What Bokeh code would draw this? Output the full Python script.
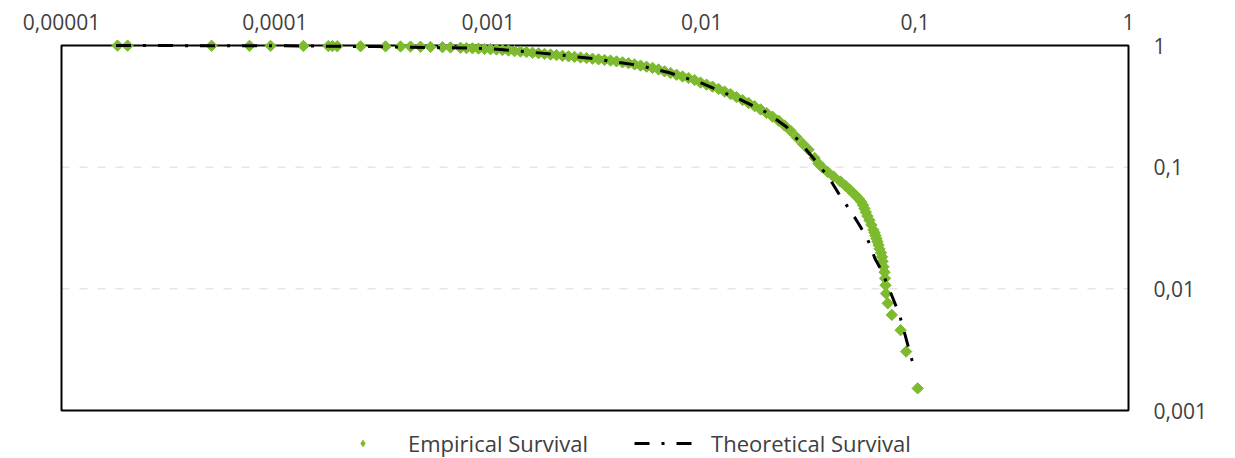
from bokeh.plotting import figure
from bokeh.models import FixedTicker, CustomJSTickFormatter, Legend, LegendItem
from bokeh.embed import file_html
from bokeh.resources import INLINE
import math

# Empirical survival (sorted data, survival probability)
emp_x = [
    1.83e-5, 2.04e-5, 5.05e-5, 7.60e-5, 9.54e-5, 1.36e-4, 1.78e-4, 1.86e-4, 1.96e-4, 2.52e-4, 3.30e-4, 3.88e-4,
    4.32e-4, 4.81e-4, 5.36e-4, 6.10e-4, 6.65e-4, 7.41e-4, 7.90e-4, 8.43e-4, 8.99e-4, 9.60e-4, 1.024e-3,
    1.092e-3, 1.165e-3, 1.243e-3, 1.327e-3, 1.415e-3, 1.510e-3, 1.611e-3, 1.719e-3, 1.834e-3, 1.957e-3,
    2.088e-3, 2.227e-3, 2.376e-3, 2.535e-3, 2.705e-3, 2.886e-3, 3.079e-3, 3.285e-3, 3.505e-3, 3.739e-3,
    3.989e-3, 4.256e-3, 4.541e-3, 4.845e-3, 5.169e-3, 5.515e-3, 5.884e-3, 6.278e-3, 6.698e-3, 7.146e-3,
    7.624e-3, 8.134e-3, 8.678e-3, 9.259e-3, 9.878e-3, 1.054e-2, 1.124e-2, 1.200e-2, 1.280e-2, 1.366e-2,
    1.457e-2, 1.555e-2, 1.659e-2, 1.770e-2, 1.888e-2, 2.014e-2, 2.149e-2, 2.293e-2, 2.446e-2, 2.610e-2,
    2.785e-2, 2.971e-2, 3.170e-2, 3.382e-2,
    0.0353, 0.0368, 0.0389, 0.0415, 0.0447, 0.0473, 0.0493, 0.0514, 0.0531, 0.0545, 0.0560, 0.0570,
    0.0579, 0.0588, 0.0598, 0.0611, 0.0624, 0.0638, 0.0645, 0.0652, 0.0659, 0.0666, 0.0674, 0.0681,
    0.0692, 0.0700, 0.0704, 0.0711,
    0.0719, 0.0723, 0.0727, 0.0731, 0.0744, 0.0778, 0.0855, 0.0908, 0.1028,
]
emp_s = [
    0.9985, 0.997, 0.9954, 0.9939, 0.9924, 0.9909, 0.9893, 0.9878, 0.9863, 0.9848, 0.9832, 0.9817,
    0.980, 0.977, 0.973, 0.968, 0.964, 0.958, 0.953, 0.948, 0.943, 0.938, 0.932,
    0.927, 0.918, 0.910, 0.899, 0.892, 0.882, 0.872, 0.862, 0.853, 0.843,
    0.834, 0.824, 0.815, 0.806, 0.797, 0.788, 0.779, 0.770, 0.761, 0.752,
    0.740, 0.727, 0.715, 0.699, 0.684, 0.670, 0.654, 0.635, 0.613, 0.594,
    0.575, 0.556, 0.540, 0.520, 0.4955, 0.477, 0.459, 0.439, 0.418, 0.398,
    0.376, 0.356, 0.337, 0.317, 0.298, 0.279, 0.260, 0.241, 0.220, 0.199,
    0.176, 0.156, 0.139, 0.119,
    0.1067, 0.0991, 0.0915, 0.0838, 0.0762, 0.0701, 0.0655, 0.0610, 0.0579, 0.0549, 0.0518, 0.0488,
    0.0457, 0.0427, 0.0396, 0.0366, 0.0335, 0.0305, 0.0290, 0.0274, 0.0259, 0.0244, 0.0229, 0.0213,
    0.0198, 0.0183, 0.0168, 0.0152,
    0.0137, 0.0122, 0.0107, 0.00915, 0.0076, 0.0061, 0.00457, 0.00305, 0.00152,
]

# Theoretical survival curve
theo_x = [1.8e-5, 1e-4, 3e-4, 1e-3, 2e-3, 3e-3, 5e-3, 7e-3, 1e-2, 1.5e-2, 2e-2, 2.5e-2, 3e-2, 3.5e-2,
          4e-2, 4.5e-2, 5e-2, 5.5e-2, 6e-2, 6.5e-2, 7e-2, 7.5e-2, 8e-2, 8.5e-2, 9e-2, 9.5e-2, 0.1]
theo_s = [0.9995, 0.995, 0.98, 0.945, 0.85, 0.785, 0.69, 0.60, 0.49, 0.362, 0.283, 0.214, 0.148, 0.107,
          0.079, 0.0563, 0.0433, 0.0332, 0.0254, 0.0176, 0.0139, 0.0103, 0.0078, 0.0059, 0.0041, 0.0029, 0.0021]

x_ticks = [1e-5, 1e-4, 1e-3, 1e-2, 1e-1, 1]
y_ticks = [1e-3, 1e-2, 1e-1, 1]

series_labels = ["Empirical Survival", "Theoretical Survival"]

FONT = "Open Sans"
TXT = "#404040"
GREEN = "#7DBA2F"

# The drawing area is a little larger than the chart box so that the box lines,
# the markers along the top edge and the legend below the box are not clipped.
PX_X = 213.4   # pixels per decade (x)
PX_Y = 365 / 3  # pixels per decade (y)
pad_x, pad_top, pad_bottom = 3, 6, 48
x_start = x_ticks[0] * 10 ** (-pad_x / PX_X)
x_end = x_ticks[-1] * 10 ** (pad_x / PX_X)
y_start = y_ticks[0] * 10 ** (-pad_bottom / PX_Y)
y_end = y_ticks[-1] * 10 ** (pad_top / PX_Y)

p = figure(frame_width=1067 + 2 * pad_x, frame_height=365 + pad_top + pad_bottom,
           x_axis_type="log", y_axis_type="log",
           x_range=(x_start, x_end), y_range=(y_start, y_end),
           x_axis_location="above", y_axis_location="right",
           output_backend="svg", toolbar_location=None,
           min_border_left=61 - pad_x, min_border_top=45 - pad_top,
           min_border_right=99 - pad_x, min_border_bottom=0)

# gridlines at the inner decades, spanning the chart box only
grid_vals = y_ticks[1:-1]
p.segment(x0=[x_ticks[0]] * len(grid_vals), x1=[x_ticks[-1]] * len(grid_vals),
          y0=grid_vals, y1=grid_vals, line_color="#D9D9D9", line_width=1, line_dash="8 10")
# chart box
p.quad(left=[x_ticks[0]], right=[x_ticks[-1]], bottom=[y_ticks[0]], top=[y_ticks[-1]],
       fill_color=None, line_color="black", line_width=2)

# legend key for the diamond symbol: drawn on the first empirical point, hidden under it
r1_key = p.scatter(x=emp_x[:1], y=emp_s[:1], marker="diamond", size=10,
                   fill_color=GREEN, line_color=GREEN, line_width=1)
r1 = p.scatter(emp_x, emp_s, marker="square", size=8, angle=math.pi / 4,
               fill_color=GREEN, line_color=GREEN, line_width=1)
r2 = p.line(theo_x, theo_s, line_color="black", line_width=3, line_dash="15 12 3 12")

fmt = CustomJSTickFormatter(code="return tick.toString().replace('.', ',');")
for ax in (p.xaxis[0], p.yaxis[0]):
    ax.formatter = fmt
    ax.axis_line_color = None
    ax.major_tick_line_color = None
    ax.minor_tick_line_color = None
    ax.major_tick_in = 0
    ax.major_tick_out = 0
    ax.major_label_text_font = FONT
    ax.major_label_text_font_size = "21px"
    ax.major_label_text_color = TXT
p.xaxis[0].ticker = FixedTicker(ticks=x_ticks)
p.yaxis[0].ticker = FixedTicker(ticks=y_ticks)
p.xaxis[0].major_label_standoff = 16 - pad_top
p.yaxis[0].major_label_standoff = 25 - pad_x
p.yaxis[0].major_label_text_align = "left"

p.xgrid.visible = False
p.ygrid.visible = False

p.outline_line_color = None
p.background_fill_color = "white"
p.border_fill_color = "white"

legend = Legend(items=[LegendItem(label=series_labels[0], renderers=[r1_key]),
                       LegendItem(label=series_labels[1], renderers=[r2])],
                orientation="horizontal", location=(270 + pad_x, 0),
                glyph_width=63, glyph_height=16, label_standoff=14, spacing=46,
                label_text_font=FONT, label_text_font_size="22px", label_text_color=TXT,
                border_line_color=None, background_fill_alpha=0, padding=0, margin=0)
p.add_layout(legend, "center")

open("out.html", "w").write(file_html(p, INLINE))
